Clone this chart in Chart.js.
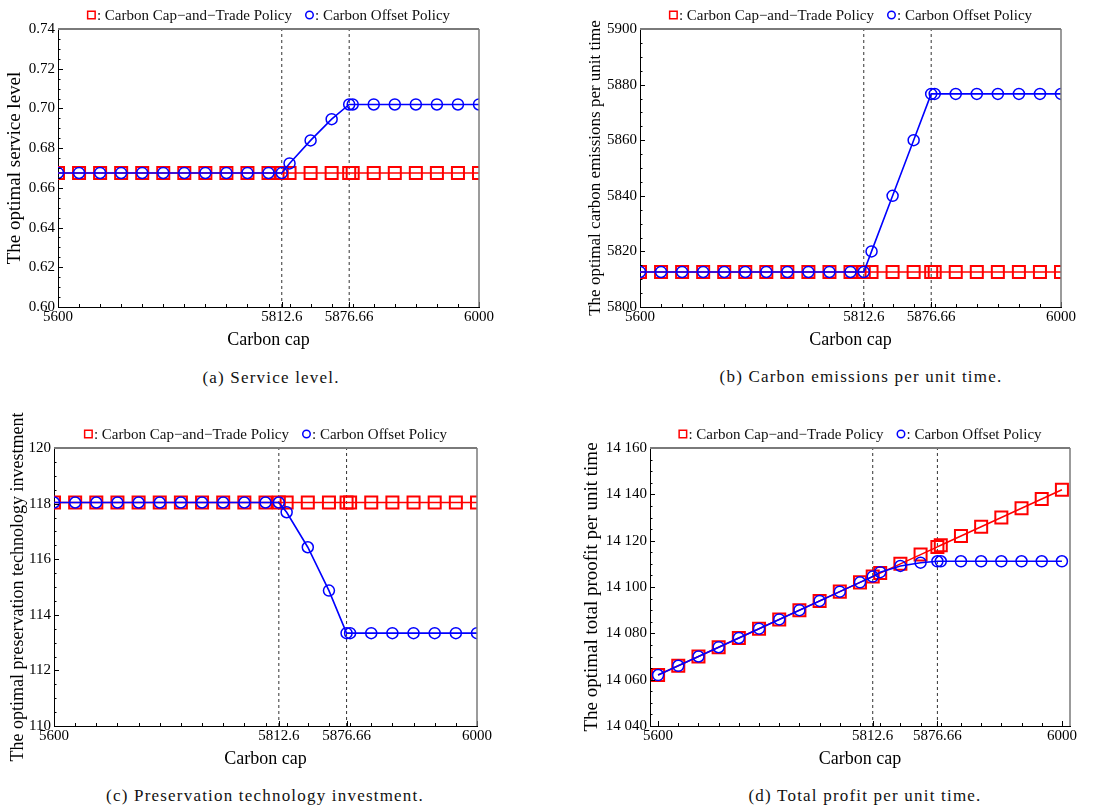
<!DOCTYPE html>
<html>
<head>
<meta charset="utf-8">
<script src="https://cdn.jsdelivr.net/npm/chart.js@4.4.0/dist/chart.umd.min.js"></script>
<style>
  body { margin: 0; background: #fff; width: 1115px; height: 809px; position: relative; overflow: hidden; }
  canvas { position: absolute; }
  .cap { position: absolute; transform: translate(-50%, -50%); font-family: "Liberation Serif", serif;
         font-size: 17px; letter-spacing: 1.2px; white-space: nowrap; color: #111; }
</style>
</head>
<body>
<canvas id="chartA"></canvas>
<canvas id="chartB"></canvas>
<canvas id="chartC"></canvas>
<canvas id="chartD"></canvas>
<div class="cap" style="left:271px;top:378px">(a) Service level.</div>
<div class="cap" style="left:861px;top:377px">(b) Carbon emissions per unit time.</div>
<div class="cap" style="left:265px;top:796px">(c) Preservation technology investment.</div>
<div class="cap" style="left:865px;top:796px">(d) Total profit per unit time.</div>
<script>
const carbonCaps = [5600, 5620, 5640, 5660, 5680, 5700, 5720, 5740, 5760, 5780, 5800, 5812.6,
  5820, 5840, 5860, 5876.66, 5880, 5900, 5920, 5940, 5960, 5980, 6000];
const thresholds = [5812.6, 5876.66];
const capTicks = [5600, 5812.6, 5876.66, 6000];

const tradeLabel = "Carbon Cap\u2212and\u2212Trade Policy";
const offsetLabel = "Carbon Offset Policy";

// (a) service level
const serviceTrade = [0.6675, 0.6675, 0.6675, 0.6675, 0.6675, 0.6675, 0.6675, 0.6675, 0.6675, 0.6675, 0.6675, 0.6675,
  0.6675, 0.6675, 0.6675, 0.6675, 0.6675, 0.6675, 0.6675, 0.6675, 0.6675, 0.6675, 0.6675];
const serviceOffset = [0.6675, 0.6675, 0.6675, 0.6675, 0.6675, 0.6675, 0.6675, 0.6675, 0.6675, 0.6675, 0.6675, 0.6675,
  0.6723, 0.6839, 0.6946, 0.702, 0.702, 0.702, 0.702, 0.702, 0.702, 0.702, 0.702];
const serviceTicks = [0.60, 0.62, 0.64, 0.66, 0.68, 0.70, 0.72, 0.74];

// (b) carbon emissions
const emissionTrade = [5812.6, 5812.6, 5812.6, 5812.6, 5812.6, 5812.6, 5812.6, 5812.6, 5812.6, 5812.6, 5812.6, 5812.6,
  5812.6, 5812.6, 5812.6, 5812.6, 5812.6, 5812.6, 5812.6, 5812.6, 5812.6, 5812.6, 5812.6];
const emissionOffset = [5812.6, 5812.6, 5812.6, 5812.6, 5812.6, 5812.6, 5812.6, 5812.6, 5812.6, 5812.6, 5812.6, 5812.6,
  5820, 5840, 5860, 5876.66, 5876.66, 5876.66, 5876.66, 5876.66, 5876.66, 5876.66, 5876.66];
const emissionTicks = [5800, 5820, 5840, 5860, 5880, 5900];

// (c) preservation technology investment
const investTrade = [118.04, 118.04, 118.04, 118.04, 118.04, 118.04, 118.04, 118.04, 118.04, 118.04, 118.04, 118.04,
  118.04, 118.04, 118.04, 118.04, 118.04, 118.04, 118.04, 118.04, 118.04, 118.04, 118.04];
const investOffset = [118.04, 118.04, 118.04, 118.04, 118.04, 118.04, 118.04, 118.04, 118.04, 118.04, 118.04, 118.04,
  117.69, 116.43, 114.87, 113.34, 113.34, 113.34, 113.34, 113.34, 113.34, 113.34, 113.34];
const investTicks = [110, 112, 114, 116, 118, 120];

// (d) total profit
const profitTrade = [14062, 14066, 14070, 14074, 14078, 14082, 14086, 14090, 14094, 14098, 14102, 14104.5,
  14106, 14110, 14114, 14117.3, 14118, 14122, 14126, 14130, 14134, 14138, 14142];
const profitOffset = [14062, 14066, 14070, 14074, 14078, 14082, 14086, 14090, 14094, 14098, 14102, 14104.5,
  14106.4, 14109.1, 14110.5, 14111.1, 14111.1, 14111.1, 14111.1, 14111.1, 14111.1, 14111.1, 14111.1];
const profitTicks = [14040, 14060, 14080, 14100, 14120, 14140, 14160];

const SERIF = '"Liberation Serif", "Times New Roman", serif';
const TOP_ROOM = 45;

// inward Mathematica-style frame ticks plus grey top/right frame
const frameTicks = {
  id: "frameTicks",
  afterDraw(chart, args, opts) {
    const { ctx, chartArea: a, scales } = chart;
    const x = scales.x, y = scales.y;
    ctx.save();
    ctx.strokeStyle = "#000";
    ctx.lineWidth = 1;
    ctx.beginPath();
    y.ticks.forEach(t => {
      const py = Math.round(y.getPixelForValue(t.value)) + 0.5;
      ctx.moveTo(a.left, py); ctx.lineTo(a.left + 5, py);
    });
    const nY = Math.round((y.max - y.min) / opts.yMinor);
    for (let i = 0; i <= nY; i++) {
      const py = Math.round(y.getPixelForValue(y.min + i * opts.yMinor)) + 0.5;
      ctx.moveTo(a.left, py); ctx.lineTo(a.left + 2.5, py);
    }
    x.ticks.forEach(t => {
      const px = Math.round(x.getPixelForValue(t.value)) + 0.5;
      ctx.moveTo(px, a.bottom); ctx.lineTo(px, a.bottom - 5);
    });
    carbonCaps.forEach(v => {
      const px = Math.round(x.getPixelForValue(v)) + 0.5;
      ctx.moveTo(px, a.bottom); ctx.lineTo(px, a.bottom - 3);
    });
    ctx.stroke();
    ctx.strokeStyle = "#7a7a7a";
    ctx.lineWidth = 2;
    ctx.beginPath();
    ctx.moveTo(a.left, a.top); ctx.lineTo(a.right, a.top);
    ctx.stroke();
    ctx.lineWidth = 1.5;
    ctx.beginPath();
    ctx.moveTo(a.right, a.top); ctx.lineTo(a.right, a.bottom);
    ctx.stroke();
    ctx.restore();
  }
};

const policyLegend = {
  id: "policyLegend",
  afterDraw(chart) {
    const { ctx, chartArea: a } = chart;
    const items = chart.data.datasets.filter(d => d.mark);
    ctx.save();
    ctx.font = "15px " + SERIF;
    ctx.textBaseline = "middle";
    const box = 9, gapIn = 1, gapOut = 13;
    const widths = items.map(d => box + gapIn + ctx.measureText(": " + d.label).width);
    const total = widths.reduce((s, w) => s + w, 0) + gapOut * (items.length - 1);
    let x = (a.left + a.right) / 2 - total / 2;
    const y = a.top - 14;
    items.forEach((d, i) => {
      ctx.strokeStyle = d.borderColor;
      ctx.lineWidth = 1.5;
      ctx.beginPath();
      if (d.mark === "rect") ctx.rect(x + 0.75, y - box / 2 + 0.75, box - 1.5, box - 1.5);
      else ctx.arc(x + box / 2, y, box / 2 - 0.75, 0, Math.PI * 2);
      ctx.stroke();
      ctx.fillStyle = "#111";
      ctx.fillText(": " + d.label, x + box + gapIn, y + 1);
      x += widths[i] + gapOut;
    });
    ctx.restore();
  }
};

function pairs(values) {
  return carbonCaps.map((c, i) => ({ x: c, y: values[i] }));
}

function makePanel(id, p) {
  const canvas = document.getElementById(id);
  canvas.width = p.plotRight + 30 - p.left;
  canvas.height = TOP_ROOM + (p.plotBottom - p.plotTop) + 44;
  canvas.style.left = p.left + "px";
  canvas.style.top = (p.plotTop - TOP_ROOM) + "px";
  const yMin = p.yTicks[0], yMax = p.yTicks[p.yTicks.length - 1];

  new Chart(canvas, {
    type: "line",
    data: {
      datasets: [
        {
          label: tradeLabel, mark: "rect", data: pairs(p.trade), order: 1,
          borderColor: "#ff0000", borderWidth: 1.5,
          pointStyle: "rect", pointRadius: 8.5, pointBorderWidth: 2,
          pointBorderColor: "#ff0000", pointBackgroundColor: "rgba(0,0,0,0)"
        },
        {
          label: offsetLabel, mark: "circle", data: pairs(p.offset), order: 0,
          borderColor: "#0000ff", borderWidth: 1.6,
          pointStyle: "circle", pointRadius: 5.5, pointBorderWidth: 1.5,
          pointBorderColor: "#0000ff", pointBackgroundColor: "rgba(0,0,0,0)"
        },
        ...thresholds.map(t => ({
          data: [{ x: t, y: yMin }, { x: t, y: yMax }], order: 2,
          borderColor: "#333", borderWidth: 1, borderDash: [3, 3], pointRadius: 0
        }))
      ]
    },
    options: {
      responsive: false,
      animation: false,
      layout: { padding: { top: TOP_ROOM, right: 30, left: 0, bottom: 0 } },
      plugins: {
        legend: { display: false },
        tooltip: { enabled: false },
        frameTicks: { yMinor: p.yMinor }
      },
      scales: {
        x: {
          type: "linear", min: p.xMin, max: p.xMax,
          afterBuildTicks: s => { s.ticks = capTicks.map(v => ({ value: v })); },
          afterFit: s => { s.height = 44; },
          grid: { display: false, drawTicks: false },
          border: { color: "#000", width: 1 },
          ticks: { padding: 1, autoSkip: false, maxRotation: 0, color: "#000",
                   font: { family: SERIF, size: 15 }, callback: v => String(v) },
          title: { display: true, text: "Carbon cap", color: "#000", padding: 0,
                   font: { family: SERIF, size: 18 } }
        },
        y: {
          type: "linear", min: yMin, max: yMax,
          afterBuildTicks: s => { s.ticks = p.yTicks.map(v => ({ value: v })); },
          afterFit: s => { s.width = p.plotLeft - p.left; },
          grid: { display: false, drawTicks: false },
          border: { color: "#000", width: 1 },
          ticks: { padding: 3, autoSkip: false, color: "#000",
                   font: { family: SERIF, size: 15 }, callback: p.fmt },
          title: { display: true, text: p.yLabel, color: "#000", padding: 0,
                   font: { family: SERIF, size: p.yFont } }
        }
      }
    },
    plugins: [frameTicks, policyLegend]
  });
}

const grouped = v => String(v).replace(/^(\d\d)(\d\d\d)$/, "$1 $2");

makePanel("chartA", { left: 4, plotTop: 29, plotBottom: 307, plotLeft: 58, plotRight: 479, xMin: 5600, xMax: 6000,
  trade: serviceTrade, offset: serviceOffset, yTicks: serviceTicks, yMinor: 0.005,
  yLabel: "The optimal service level", yFont: 19, fmt: v => v.toFixed(2) });
makePanel("chartB", { left: 585, plotTop: 29, plotBottom: 307, plotLeft: 640, plotRight: 1061, xMin: 5600, xMax: 6000,
  trade: emissionTrade, offset: emissionOffset, yTicks: emissionTicks, yMinor: 5,
  yLabel: "The optimal carbon emissions per unit time", yFont: 17, fmt: v => String(v) });
makePanel("chartC", { left: 7, plotTop: 448, plotBottom: 726, plotLeft: 54, plotRight: 477, xMin: 5600, xMax: 6000,
  trade: investTrade, offset: investOffset, yTicks: investTicks, yMinor: 0.5,
  yLabel: "The optimal preservation technology investment", yFont: 18, fmt: v => String(v) });
makePanel("chartD", { left: 581, plotTop: 448, plotBottom: 726, plotLeft: 650, plotRight: 1070, xMin: 5592, xMax: 6008,
  trade: profitTrade, offset: profitOffset, yTicks: profitTicks, yMinor: 5,
  yLabel: "The optimal total proofit per unit time", yFont: 19, fmt: grouped });
</script>
</body>
</html>
